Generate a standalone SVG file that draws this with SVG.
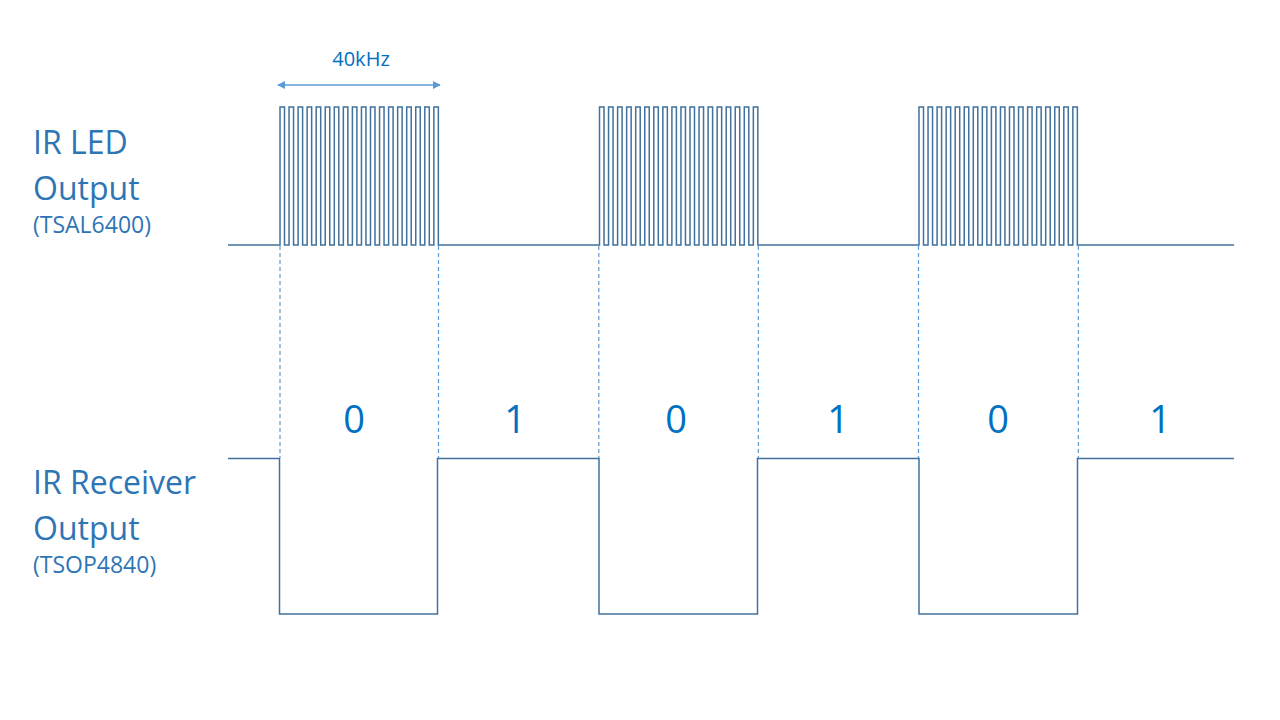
<svg xmlns="http://www.w3.org/2000/svg" width="1280" height="720" viewBox="0 0 1280 720">
<defs>
<style>
.wave{fill:none;stroke:#41719C;stroke-width:1.5;stroke-linejoin:miter}
.dash{fill:none;stroke:#5B9BD5;stroke-width:1.2;stroke-dasharray:4 3}
.lbl{font-family:"Open Sans","Liberation Sans",sans-serif;fill:#2E75B6}
.big{font-size:32px}
.sub{font-size:23px}
.bit{font-family:"Open Sans","Liberation Sans",sans-serif;font-size:38px;fill:#0070C0;text-anchor:middle}
.freq{font-family:"Open Sans","Liberation Sans",sans-serif;font-size:20px;fill:#0070C0;text-anchor:middle}
</style>
<marker id="ah" viewBox="0 0 10 10" refX="9" refY="5" markerWidth="8" markerHeight="8" markerUnits="userSpaceOnUse" orient="auto-start-reverse">
<path d="M0,0 L10,5 L0,10 z" fill="#5B9BD5"/>
</marker>
</defs>
<rect width="1280" height="720" fill="#ffffff"/>

<g id="led-label">
<text class="lbl big" x="33" y="154">IR LED</text>
<text class="lbl big" x="33" y="200">Output</text>
<text class="lbl sub" x="33" y="233">(TSAL6400)</text>
</g>
<g id="rx-label">
<text class="lbl big" x="33" y="494">IR Receiver</text>
<text class="lbl big" x="33" y="540">Output</text>
<text class="lbl sub" x="33" y="573">(TSOP4840)</text>
</g>

<g id="freq-marker">
<line x1="278" y1="85" x2="440" y2="85" stroke="#5B9BD5" stroke-width="1.5" marker-start="url(#ah)" marker-end="url(#ah)"/>
<text class="freq" x="361" y="66">40kHz</text>
</g>

<g id="led-wave">
<path class="wave" d="M228,245 H280 V107h4.5V245h4.55V107h4.5V245h4.55V107h4.5V245h4.55V107h4.5V245h4.55V107h4.5V245h4.55V107h4.5V245h4.55V107h4.5V245h4.55V107h4.5V245h4.55V107h4.5V245h4.55V107h4.5V245h4.55V107h4.5V245h4.55V107h4.5V245h4.55V107h4.5V245h4.55V107h4.5V245h4.55V107h4.5V245h4.55V107h4.5V245h4.55V107h4.5V245h4.55V107h4.5V245 H599.5 V107h4.5V245h4.55V107h4.5V245h4.55V107h4.5V245h4.55V107h4.5V245h4.55V107h4.5V245h4.55V107h4.5V245h4.55V107h4.5V245h4.55V107h4.5V245h4.55V107h4.5V245h4.55V107h4.5V245h4.55V107h4.5V245h4.55V107h4.5V245h4.55V107h4.5V245h4.55V107h4.5V245h4.55V107h4.5V245h4.55V107h4.5V245h4.55V107h4.5V245h4.55V107h4.5V245 H919 V107h4.5V245h4.55V107h4.5V245h4.55V107h4.5V245h4.55V107h4.5V245h4.55V107h4.5V245h4.55V107h4.5V245h4.55V107h4.5V245h4.55V107h4.5V245h4.55V107h4.5V245h4.55V107h4.5V245h4.55V107h4.5V245h4.55V107h4.5V245h4.55V107h4.5V245h4.55V107h4.5V245h4.55V107h4.5V245h4.55V107h4.5V245h4.55V107h4.5V245h4.55V107h4.5V245 H1234"/>
</g>

<g id="rx-wave">
<path class="wave" d="M228,458.5 H279.5 V614 H437.5 V458.5 H599 V614 H757.5 V458.5 H919 V614 H1077.5 V458.5 H1234"/>
</g>

<g id="connectors">
<line class="dash" x1="280" y1="246" x2="280" y2="458"/>
<line class="dash" x1="438.5" y1="246" x2="438.5" y2="458"/>
<line class="dash" x1="598.8" y1="246" x2="598.8" y2="458"/>
<line class="dash" x1="758.3" y1="246" x2="758.3" y2="458"/>
<line class="dash" x1="918.5" y1="246" x2="918.5" y2="458"/>
<line class="dash" x1="1078.3" y1="246" x2="1078.3" y2="458"/>
</g>

<g id="bits">
<text class="bit" x="354" y="433">0</text>
<text class="bit" x="515" y="433">1</text>
<text class="bit" x="676" y="433">0</text>
<text class="bit" x="838" y="433">1</text>
<text class="bit" x="998" y="433">0</text>
<text class="bit" x="1160" y="433">1</text>
</g>
</svg>
